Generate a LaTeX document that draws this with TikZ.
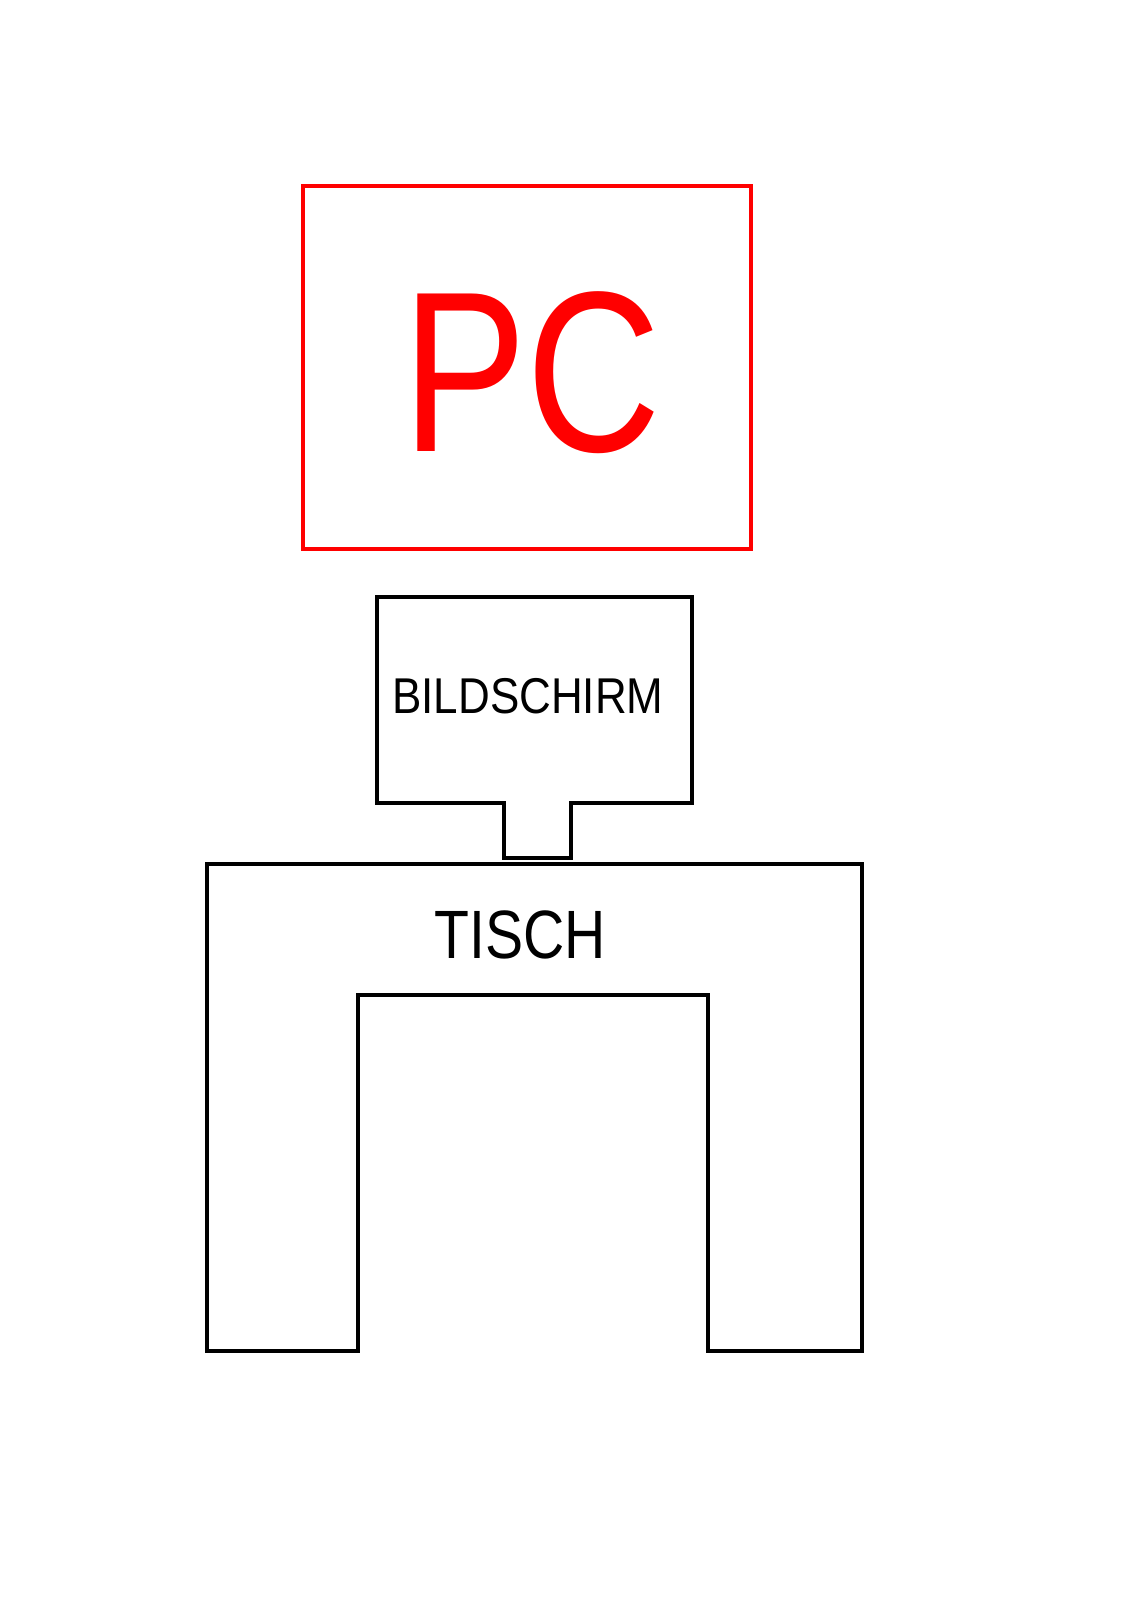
\documentclass[tikz,border=0pt]{standalone}
\usepackage{fontspec}
\setmainfont{Liberation Sans}
\begin{document}
\begin{tikzpicture}[x=1pt,y=-1pt,
  outline/.style={line width=3.2pt,line join=miter},
  label/.style={inner sep=0pt,anchor=base}]
\useasboundingbox[fill=white] (0,0) rectangle (1135,1600);
% PC box
\draw[outline,red] (303,186) rectangle (751,549);
\node[label,text=red,font=\fontsize{229}{229}\selectfont] (pc) at (532,451) {\scalebox{0.815}[1]{PC}};
% Monitor
\draw[outline] (377,597) -- (692,597) -- (692,803) -- (571,803) -- (571,858)
  -- (504,858) -- (504,803) -- (377,803) -- cycle;
\node[label,font=\fontsize{50.3}{50.3}\selectfont] (bild) at (528,713) {\scalebox{0.874}[1]{BILDSCHIRM}};
% Table
\draw[outline] (207,864) -- (862,864) -- (862,1351) -- (708,1351) -- (708,995)
  -- (358,995) -- (358,1351) -- (207,1351) -- cycle;
\node[label,font=\fontsize{68.4}{68.4}\selectfont] (tisch) at (520,958) {\scalebox{0.835}[1]{TISCH}};
\end{tikzpicture}
\end{document}
